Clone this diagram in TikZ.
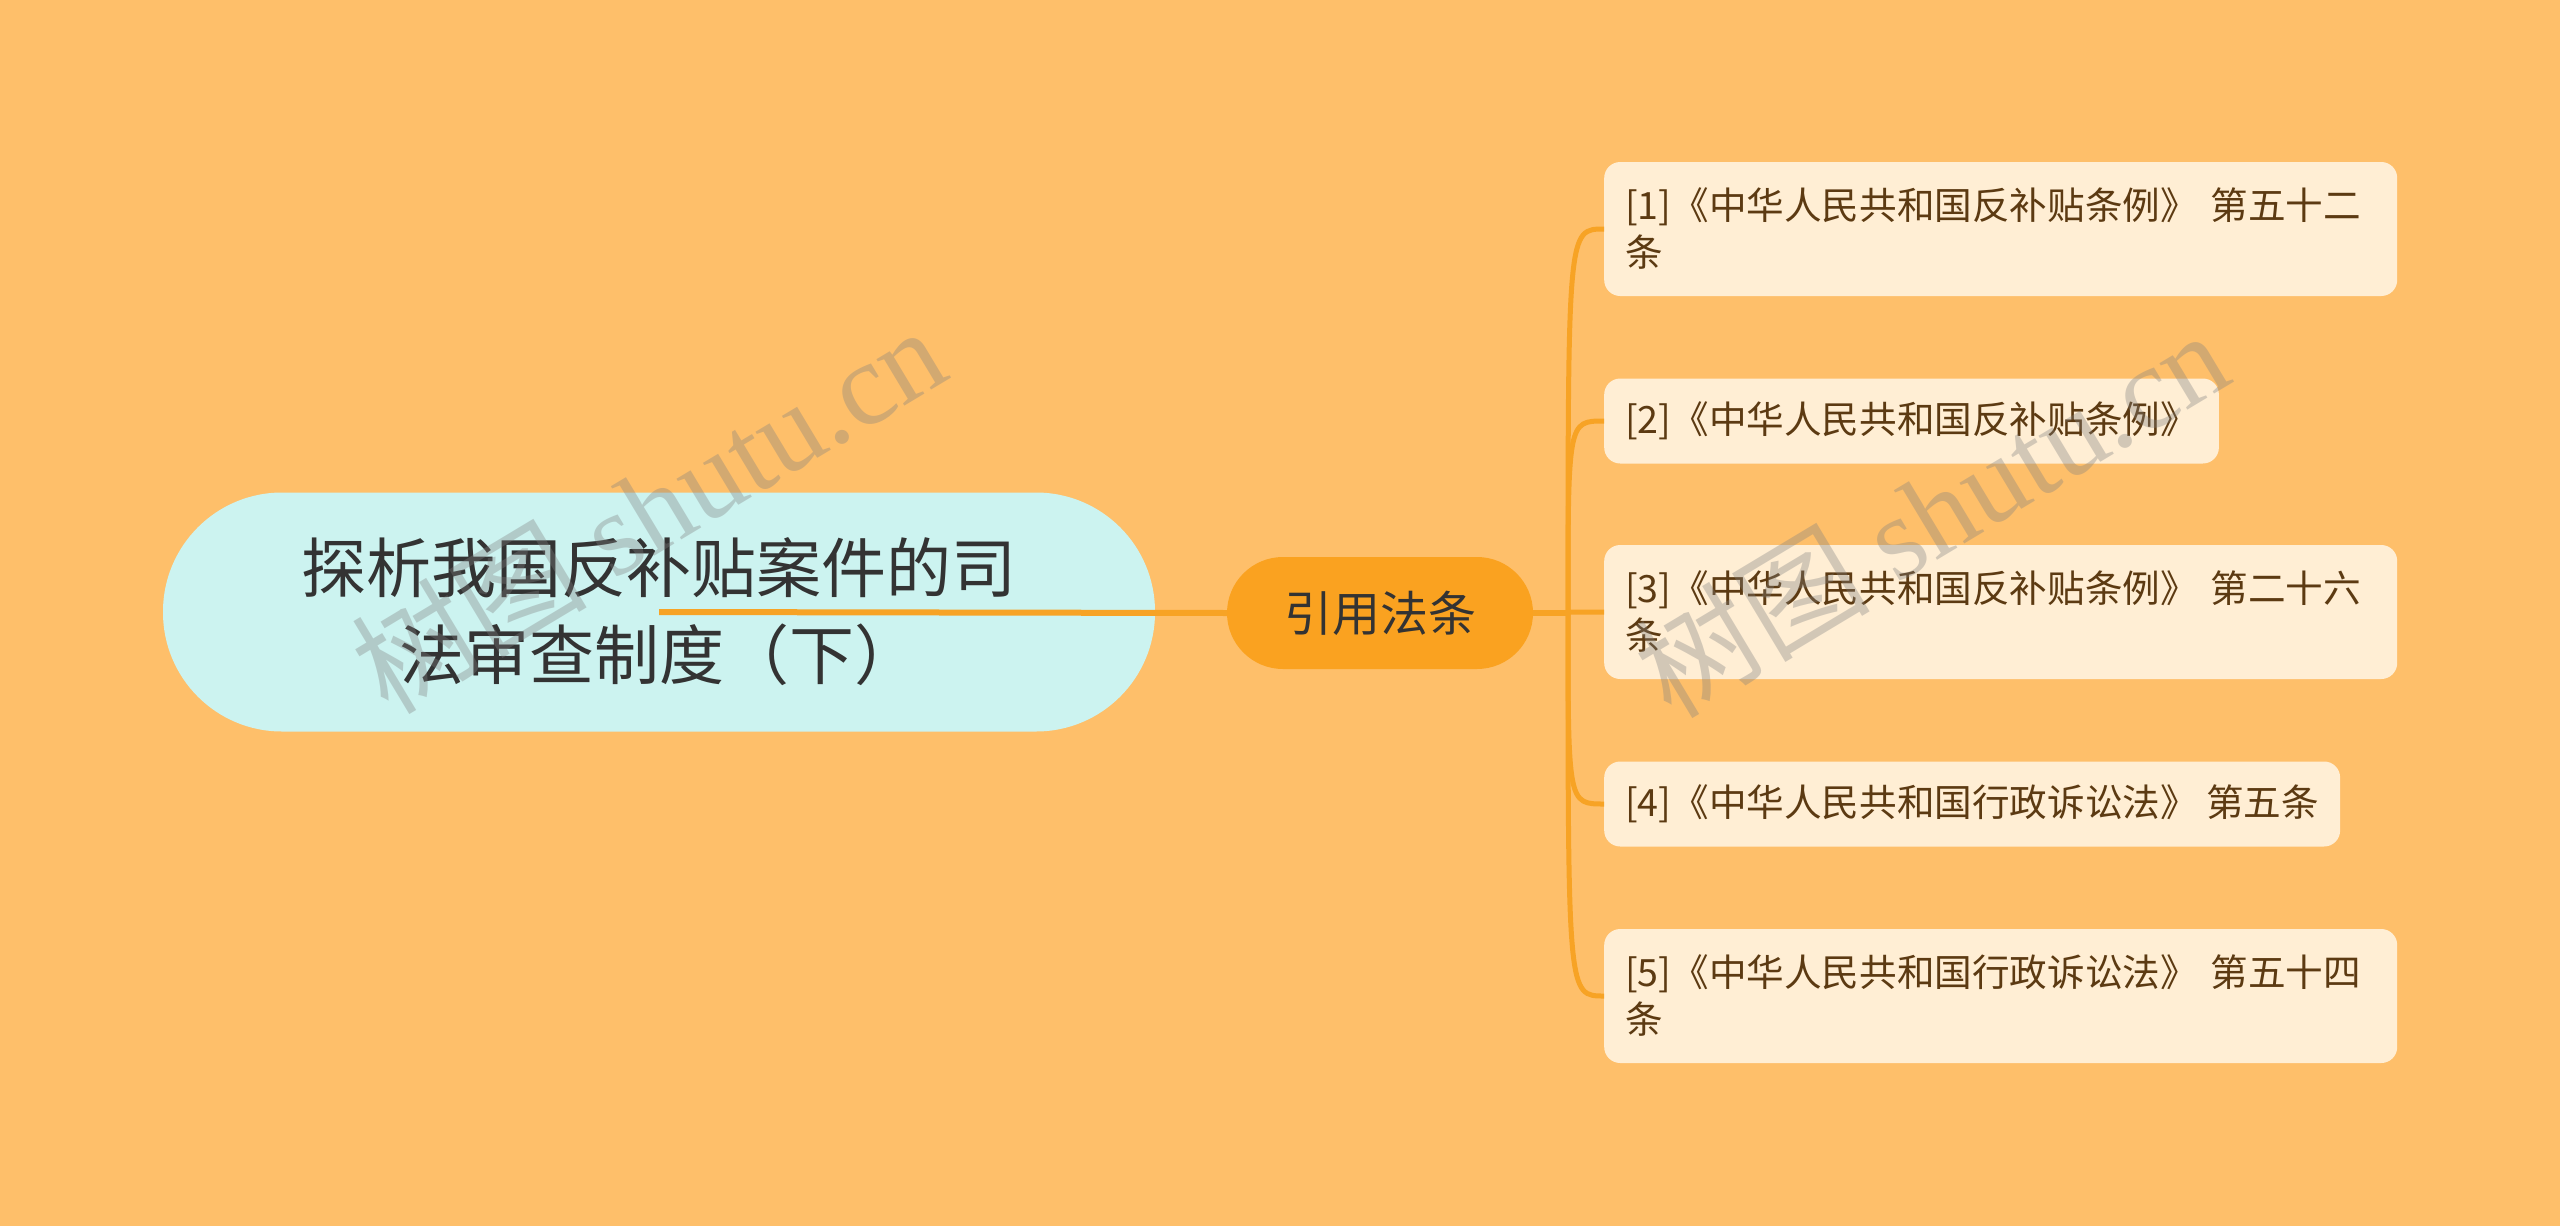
\documentclass[tikz,border=0pt]{standalone}
\usepackage{fontspec}
\setmainfont{Noto Sans CJK SC}
\newfontfamily\wmfont{Liberation Serif}
\usepackage{tikz}
\definecolor{mapbg}{RGB}{254,191,106}
\definecolor{rootbg}{RGB}{204,243,240}
\definecolor{citebg}{RGB}{250,162,32}
\definecolor{leafbg}{RGB}{255,238,212}
\definecolor{linkor}{RGB}{247,163,37}
\definecolor{textdark}{RGB}{51,51,51}
\definecolor{leaftext}{RGB}{92,58,18}
\tikzset{root/.style={
    fill=rootbg,
    rounded corners=119pt,
    minimum width=992pt,
    minimum height=239pt,
    align=center,
    text=textdark,
    font=\fontsize{65}{87}\selectfont
  },
  cite/.style={
    fill=citebg,
    rounded corners=56pt,
    minimum width=306pt,
    minimum height=112pt,
    text=textdark,
    font=\fontsize{48}{58}\selectfont
  },
  leaf/.style={
    fill=leafbg,
    rounded corners=16pt,
    anchor=west,
    align=left,
    inner xsep=21pt,
    minimum height=85pt,
    text=leaftext,
    font=\fontsize{37.6}{47}\selectfont,
    #1
  },
  link/.style={draw=linkor,line width=6pt},
  branch/.style={draw=linkor,line width=5pt},
  mark wm/.style={text=gray,opacity=0.35,rotate=31,font=\fontsize{118}{118}\selectfont}
}
\begin{document}
\begin{tikzpicture}[x=1pt,y=-1pt]
      \fill[mapbg] (0,0) rectangle (2560,1226);
      \useasboundingbox (0,0) rectangle (2560,1226);
      \node[root] (root) at (659,612) {探析我国反补贴案件的司\\法审查制度（下）};
      \draw[link] (root.center) -- (1227,613);
      \node[cite] (cite) at (1380,613) {引用法条};
      \coordinate (fork) at (1568,613);
      \draw[link] (cite.east) -- (fork);
      \node[leaf={text width=751pt,minimum height=134pt}] (l1) at (1604,229) {[1]《中华人民共和国反补贴条例》 第五十二\\条};
      \node[leaf] (l2) at (1604,421) {[2]《中华人民共和国反补贴条例》};
      \node[leaf={text width=751pt,minimum height=134pt}] (l3) at (1604,612) {[3]《中华人民共和国反补贴条例》 第二十六\\条};
      \node[leaf] (l4) at (1604,804) {[4]《中华人民共和国行政诉讼法》 第五条};
      \node[leaf={text width=751pt,minimum height=134pt}] (l5) at (1604,996) {[5]《中华人民共和国行政诉讼法》 第五十四\\条};
      \foreach \i in {1,...,5}
        \draw[branch] (fork) .. controls (fork |- l\i.west) .. (l\i.west);
      % watermark
      \node[mark wm] (wm1) at (648,508) {树图 {\wmfont shutu.cn}};
      \node[mark wm] (wm2) at (1931,512) {树图 {\wmfont shutu.cn}};
\end{tikzpicture}
\end{document}
